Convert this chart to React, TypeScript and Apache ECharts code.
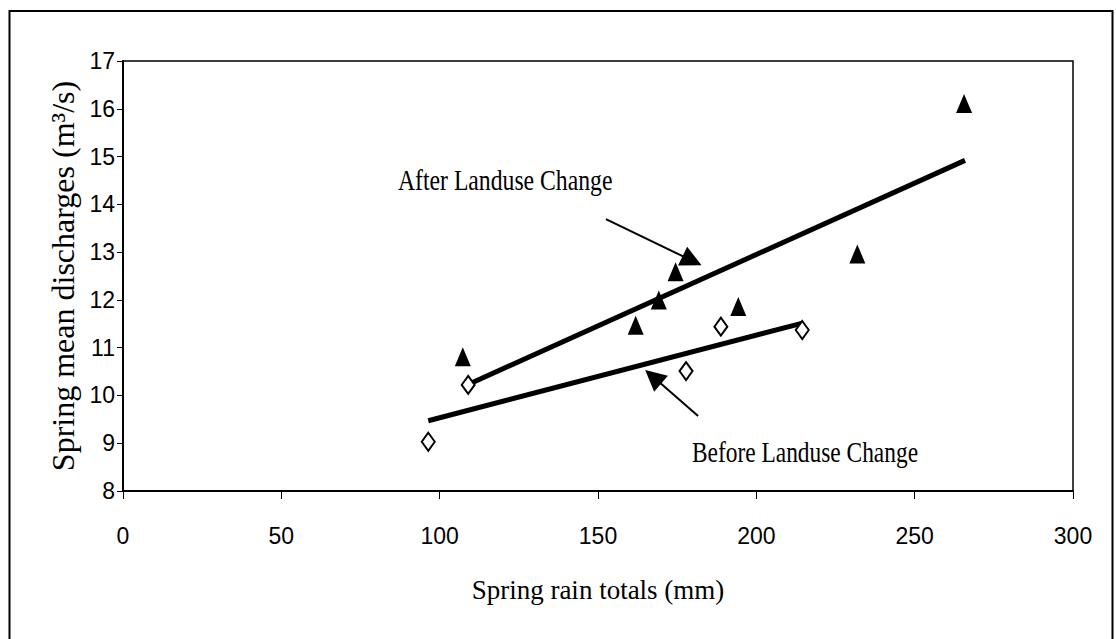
import React, { useEffect, useRef } from "react";
import * as echarts from "echarts";

// ---- data ----
const afterRain = [107.3, 161.9, 169.2, 174.5, 194.3, 231.9, 265.6];
const afterDischarge = [10.81, 11.47, 12.0, 12.59, 11.86, 12.96, 16.11];
const beforeRain = [96.4, 109, 177.8, 188.8, 214.5];
const beforeDischarge = [9.03, 10.22, 10.51, 11.44, 11.37];
const afterTrendRain = [109, 265.9];
const afterTrendDischarge = [10.23, 14.92];
const beforeTrendRain = [96.4, 214.3];
const beforeTrendDischarge = [9.47, 11.51];
// arrow annotations [tail, head]
const afterArrowRain = [152.5, 179.7];
const afterArrowDischarge = [13.69, 12.82];
const beforeArrowRain = [181.6, 167.4];
const beforeArrowDischarge = [9.57, 10.39];
const afterLabel = "After Landuse Change";
const beforeLabel = "Before Landuse Change";
const xTitle = "Spring rain totals (mm)";
const yTitle = "Spring mean discharges (m³/s)";

const zip = (a: number[], b: number[]) => a.map((v, i) => [v, b[i]]);

export default function App() {
  const ref = useRef<HTMLDivElement>(null);
  useEffect(() => {
    if (!ref.current) return;
    const chart = echarts.init(ref.current, undefined, { renderer: "svg" });
    const serif = "'Liberation Serif', 'Times New Roman', serif";
    const sans = "'Liberation Sans', Arial, sans-serif";
    const arrow = (xs: number[], ys: number[]) => ({
      silent: true,
      symbol: ["none", "triangle"],
      symbolSize: 21,
      label: { show: false },
      lineStyle: { color: "#000", width: 2, type: "solid", opacity: 1 },
      itemStyle: { color: "#000", opacity: 1 },
      emphasis: { disabled: true },
      data: [[{ coord: [xs[0], ys[0]] }, { coord: [xs[1], ys[1]] }]],
    });
    chart.setOption({
      animation: false,
      backgroundColor: "#fff",
      grid: {
        left: 123,
        right: 43,
        top: 61,
        bottom: 148,
        show: true,
        borderColor: "#000",
        borderWidth: 1.5,
      },
      xAxis: {
        type: "value",
        min: 0,
        max: 300,
        interval: 50,
        name: xTitle,
        nameLocation: "middle",
        nameGap: 85,
        nameTextStyle: { fontFamily: serif, fontSize: 27, color: "#000" },
        axisLine: { show: true, lineStyle: { color: "#000", width: 2 } },
        axisTick: { show: true, length: 8, lineStyle: { color: "#000" } },
        axisLabel: { margin: 33, fontFamily: sans, fontSize: 23, color: "#000" },
        splitLine: { show: false },
      },
      yAxis: {
        type: "value",
        min: 8,
        max: 17,
        interval: 1,
        name: yTitle,
        nameLocation: "middle",
        nameGap: 33,
        nameTextStyle: { fontFamily: serif, fontSize: 32, color: "#000" },
        axisLine: { show: true, lineStyle: { color: "#000", width: 2 } },
        axisTick: { show: true, length: 6, lineStyle: { color: "#000" } },
        axisLabel: { margin: 8, fontFamily: sans, fontSize: 23, color: "#000" },
        splitLine: { show: false },
      },
      series: [
        {
          name: "Before trend",
          type: "line",
          data: zip(beforeTrendRain, beforeTrendDischarge),
          showSymbol: false,
          lineStyle: { color: "#000", width: 5 },
          z: 3,
          markLine: arrow(beforeArrowRain, beforeArrowDischarge),
        },
        {
          name: "After trend",
          type: "line",
          data: zip(afterTrendRain, afterTrendDischarge),
          showSymbol: false,
          lineStyle: { color: "#000", width: 5 },
          z: 3,
          markLine: arrow(afterArrowRain, afterArrowDischarge),
        },
        {
          name: "Before",
          type: "scatter",
          data: zip(beforeRain, beforeDischarge),
          symbol: "diamond",
          symbolSize: [13, 18],
          itemStyle: { color: "#fff", borderColor: "#000", borderWidth: 2, opacity: 1 },
          z: 4,
        },
        {
          name: "After",
          type: "scatter",
          data: zip(afterRain, afterDischarge),
          symbol: "triangle",
          symbolSize: [16, 19],
          itemStyle: { color: "#000", opacity: 1 },
          z: 4,
        },
      ],
      graphic: [
        {
          type: "rect",
          shape: { x: 9.5, y: 11, width: 1103, height: 640 },
          style: { fill: "none", stroke: "#000", lineWidth: 2 },
          silent: true,
        },
        {
          type: "text",
          x: 398,
          y: 180,
          scaleX: 0.79,
          style: {
            text: afterLabel,
            fontFamily: serif,
            fontSize: 30,
            fill: "#000",
            textAlign: "left",
            textVerticalAlign: "middle",
          },
        },
        {
          type: "text",
          x: 692,
          y: 452,
          scaleX: 0.78,
          style: {
            text: beforeLabel,
            fontFamily: serif,
            fontSize: 30,
            fill: "#000",
            textAlign: "left",
            textVerticalAlign: "middle",
          },
        },
      ],
    });
    return () => chart.dispose();
  }, []);
  return (
    <div
      ref={ref}
      style={{ position: "fixed", left: 0, top: 0, width: 1116, height: 639 }}
    />
  );
}
